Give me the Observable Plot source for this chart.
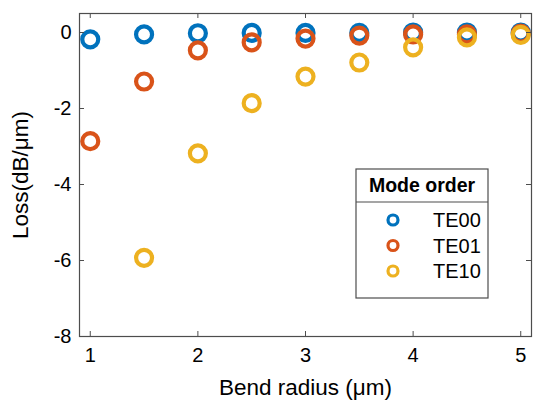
<!DOCTYPE html>
<html><head><meta charset="utf-8">
<script src="https://cdn.jsdelivr.net/npm/d3@7"></script>
<script src="https://cdn.jsdelivr.net/npm/@observablehq/plot@0.6"></script>
<style>
body{margin:0;background:#fff;}
#chart{position:relative;width:535px;height:400px;}
</style>
</head><body><div id="chart"></div>
<script>
// Data
const radii = [1, 1.5, 2, 2.5, 3, 3.5, 4, 4.5, 5];
const modes = ["TE00", "TE01", "TE10"];
const colors = ["#0072BD", "#D95319", "#EDB120"];
const te00 = [-0.18, -0.05, -0.02, -0.01, -0.01, -0.01, 0, 0, 0];
const te01 = [-2.86, -1.29, -0.47, -0.26, -0.16, -0.08, -0.05, -0.05, -0.03];
const te10 = [null, -5.93, -3.18, -1.86, -1.16, -0.79, -0.39, -0.13, -0.06];
const xTicks = [1, 2, 3, 4, 5];
const yTicks = [0, -2, -4, -6, -8];
const legendTitle = "Mode order";

const series = [te00, te01, te10];
const rows = [];
series.forEach((vals, i) => vals.forEach((v, j) => {
  if (v != null) rows.push({mode: modes[i], r: radii[j], loss: v});
}));

const W = 535, H = 400;
const mL = 79, mR = 4, mT = 13, mB = 64;
const innerH = H - mT - mB, innerW = W - mL - mR;
const tickLen = 5;
const axisColor = "#4d4d4d";
const font = "'Liberation Sans', Arial, sans-serif";

const plot = Plot.plot({
  width: W, height: H,
  marginLeft: mL, marginRight: mR, marginTop: mT, marginBottom: mB,
  style: {fontFamily: font, background: "#fff", color: "#000"},
  x: {domain: [0.9, 5.1]},
  y: {domain: [-8, 0.5]},
  color: {domain: modes, range: colors},
  marks: [
    Plot.dot(rows, {x: "r", y: "loss", stroke: "mode", r: 8, strokeWidth: 4.2, fill: "none"}),
    Plot.frame({stroke: axisColor, strokeWidth: 1.2}),
    Plot.tickX(xTicks, {x: d => d, insetTop: innerH - tickLen, stroke: axisColor}),
    Plot.tickX(xTicks, {x: d => d, insetBottom: innerH - tickLen, stroke: axisColor}),
    Plot.tickY(yTicks, {y: d => d, insetRight: innerW - tickLen, stroke: axisColor}),
    Plot.tickY(yTicks, {y: d => d, insetLeft: innerW - tickLen, stroke: axisColor}),
    Plot.axisX(xTicks, {tickSize: 0, tickPadding: 11, fontSize: 20, tickFormat: d => String(d), label: "Bend radius (μm)", labelAnchor: "center", labelOffset: 58, labelArrow: "none"}),
    Plot.axisY(yTicks, {tickSize: 0, tickPadding: 8, fontSize: 20, tickFormat: d => String(d), label: "Loss(dB/μm)", labelAnchor: "center", labelOffset: 67, labelArrow: "none"})
  ]
});
document.getElementById("chart").appendChild(plot);

// axis label font size
d3.select(plot).selectAll("g[aria-label='x-axis label'] text, g[aria-label='y-axis label'] text")
  .style("font-size", "22.5px");

// Legend box drawn inside the svg
const svg = d3.select(plot);
const lg = svg.append("g").attr("transform", "translate(356,169)");
const lw = 132, lh = 129, th = 33;
lg.append("rect").attr("width", lw).attr("height", lh).attr("fill", "#fff").attr("stroke", axisColor).attr("stroke-width", 1.2);
lg.append("line").attr("x1", 0).attr("x2", lw).attr("y1", th).attr("y2", th).attr("stroke", axisColor).attr("stroke-width", 1.2);
lg.append("text").attr("x", lw / 2).attr("y", th / 2).attr("dy", "0.35em").attr("text-anchor", "middle")
  .style("font-family", font).style("font-weight", "bold").style("font-size", "19.5px").text(legendTitle);
modes.forEach((m, i) => {
  const y = 51 + i * 25.5;
  lg.append("circle").attr("cx", 37).attr("cy", y).attr("r", 5).attr("fill", "none").attr("stroke", colors[i]).attr("stroke-width", 3.2);
  lg.append("text").attr("x", 77).attr("y", y).attr("dy", "0.35em").attr("text-anchor", "start")
    .style("font-family", font).style("font-size", "20px").text(m);
});
</script>
</body></html>
